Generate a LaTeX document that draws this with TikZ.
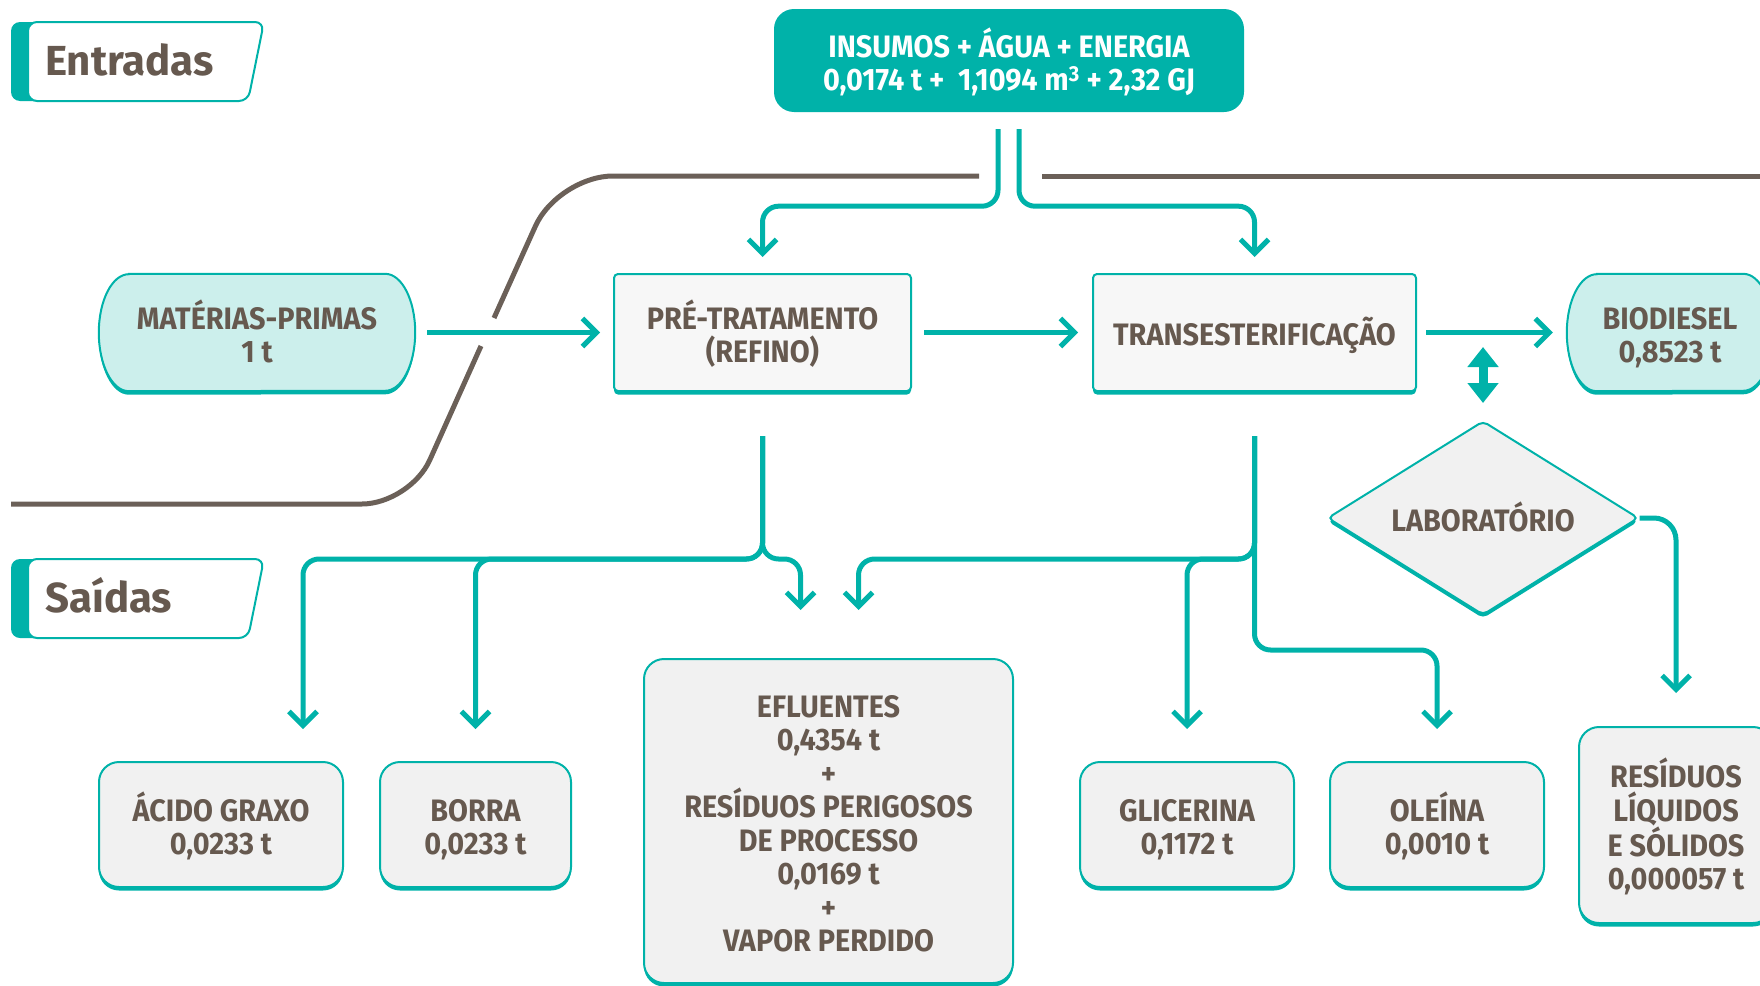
\documentclass[tikz,border=0pt]{standalone}
\usepackage{fontspec}
\setmainfont{Fira Sans}
\newfontfamily\estreita{Fira Sans}[FakeStretch=0.93]
\usepackage{tikz}
\usetikzlibrary{calc,shapes.geometric}
\usetikzlibrary{arrows.meta,backgrounds}
\definecolor{verde}{HTML}{00B2A9}
\definecolor{verdeclaro}{HTML}{CCEFEC}
\definecolor{cinza}{HTML}{F1F1F1}
\definecolor{cinzaclaro}{HTML}{F7F7F7}
\definecolor{texto}{HTML}{66594F}
\definecolor{linha}{HTML}{6B6058}
\newcommand{\grossura}{5pt}
\newcommand{\borda}{2pt}
\newcommand{\raio}{58.5pt}
\newcommand{\fonte}{\estreita\fontsize{31}{33.5}\selectfont\bfseries}
\newcommand{\topo}{\rule{0pt}{35pt}}
\newcommand{\fundo}{\rule[-7.6pt]{0pt}{7.6pt}}
\tikzset{
  texto/.style={inner sep=0pt, align=center, font=\fonte},
  sombra/.style={preaction={fill=verde, transform canvas={yshift=-3.5pt}}},
  caixa/.style={texto, draw=verde, line width=\borda, fill=cinza, rounded corners=20pt, text=texto, sombra},
  etapa/.style={caixa, fill=cinzaclaro, rounded corners=4pt},
  pilula/.style={texto, text=texto},
  fluxo/.style={verde, line width=\grossura, rounded corners=16pt, -{Straight Barb[length=14pt,width=28pt]}},
  divisor/.style={linha, line width=\grossura},
  etiqueta/.style={text=texto, font=\fontsize{42}{42}\selectfont\bfseries, inner sep=0pt, anchor=base west},
}

\begin{document}
\begin{tikzpicture}[x=1pt, y=-1pt]
\useasboundingbox (0,0) rectangle (1760,985);
%tags
\fill[verde, rounded corners=9pt] (11,22) rectangle (50,101);
\filldraw[fill=white, draw=verde, line width=\borda, rounded corners=9pt] (28,22) -- (264,22) -- (248,101) -- (28,101) -- cycle;
\node[etiqueta] (e) at (45,75) {Entradas};
\fill[verde, rounded corners=9pt] (11,559) rectangle (50,638);
\filldraw[fill=white, draw=verde, line width=\borda, rounded corners=9pt] (28,559) -- (264,559) -- (248,638) -- (28,638) -- cycle;
\node[etiqueta] (s) at (45,612) {Saídas};
%divisor
\draw[divisor] (979,176) [rounded corners=55pt] -- (558,176) -- (494,318);
\draw[divisor] (481,346) [rounded corners=48pt] -- (410,504) -- (11,504);
\draw[divisor] (1042,176) -- (1760,176);
%nodes
\node[texto, fill=verde, rounded corners=20pt, minimum width=470pt, minimum height=103pt, text=white] (0) at (1009,60.5) {\topo INSUMOS + ÁGUA + ENERGIA\\0,0174 t + \ 1,1094 m\textsuperscript{3} + 2,32 GJ\fundo};
\node[pilula, minimum width=316pt, minimum height=117pt] (1) at (257,332.5) {\topo MATÉRIAS-PRIMAS\\1 t\fundo};
\node[etapa, minimum width=297pt, minimum height=117pt] (2) at (762.5,332.5) {\topo PRÉ-TRATAMENTO\\(REFINO)\fundo};
\node[etapa, minimum width=323pt, minimum height=117pt] (3) at (1254.5,332.5) {\topo TRANSESTERIFICAÇÃO\fundo};
\node[pilula, minimum width=206pt, minimum height=117pt] (4) at (1670,332.5) {\topo BIODIESEL\\0,8523 t\fundo};
\node[caixa, diamond, aspect=1.6, rounded corners=5pt, minimum width=311pt, minimum height=194pt] (5) at (1483,518) {\topo LABORATÓRIO\fundo};
\node[caixa, minimum width=244pt, minimum height=125pt] (6) at (221,824.5) {\topo ÁCIDO GRAXO\\0,0233 t\fundo};
\node[caixa, minimum width=191pt, minimum height=125pt] (7) at (475.5,824.5) {\topo BORRA\\0,0233 t\fundo};
\node[caixa, minimum width=369pt, minimum height=324pt] (8) at (828.5,821) {\topo EFLUENTES\\0,4354 t\\+\\RESÍDUOS PERIGOSOS\\DE PROCESSO\\0,0169 t\\+\\VAPOR PERDIDO\fundo};
\node[caixa, minimum width=214pt, minimum height=125pt] (9) at (1187,824.5) {\topo GLICERINA\\0,1172 t\fundo};
\node[caixa, minimum width=214pt, minimum height=125pt] (10) at (1437,824.5) {\topo OLEÍNA\\0,0010 t\fundo};
\node[caixa, minimum width=194pt, minimum height=196pt] (11) at (1676,825) {\topo RESÍDUOS\\LÍQUIDOS\\E SÓLIDOS\\0,000057 t\fundo};
%pilulas
\begin{scope}[on background layer]
\fill[verde, transform canvas={yshift=-3.5pt}] ($(1.north west)+(30,0)$) -- ($(1.north east)+(-30,0)$) arc[start angle=90, end angle=-90, x radius=30pt, y radius=\raio] -- ($(1.south west)+(30,0)$) arc[start angle=270, end angle=90, x radius=30pt, y radius=\raio] -- cycle;
\filldraw[fill=verdeclaro, draw=verde, line width=\borda] ($(1.north west)+(30,0)$) -- ($(1.north east)+(-30,0)$) arc[start angle=90, end angle=-90, x radius=30pt, y radius=\raio] -- ($(1.south west)+(30,0)$) arc[start angle=270, end angle=90, x radius=30pt, y radius=\raio] -- cycle;
\fill[verde, transform canvas={yshift=-3.5pt}] ($(4.north west)+(30,0)$) -- ($(4.north east)+(-30,0)$) arc[start angle=90, end angle=-90, x radius=30pt, y radius=\raio] -- ($(4.south west)+(30,0)$) arc[start angle=270, end angle=90, x radius=30pt, y radius=\raio] -- cycle;
\filldraw[fill=verdeclaro, draw=verde, line width=\borda] ($(4.north west)+(30,0)$) -- ($(4.north east)+(-30,0)$) arc[start angle=90, end angle=-90, x radius=30pt, y radius=\raio] -- ($(4.south west)+(30,0)$) arc[start angle=270, end angle=90, x radius=30pt, y radius=\raio] -- cycle;
\end{scope}
%0
\draw[fluxo] ($(0.south)+(-11,17)$) -- ++(0,77) -| ($(2.north)+(0,-16)$);
\draw[fluxo] ($(0.south)+(10,17)$) -- ++(0,77) -| ($(3.north)+(0,-16)$);
%1234
\draw[fluxo] ($(1.east)+(12,0)$) -- ($(2.west)+(-13,0)$);
\draw[fluxo] ($(2.east)+(12,0)$) -- ($(3.west)+(-14,0)$);
\draw[fluxo] ($(3.east)+(9,0)$) -- ($(4.west)+(-14,0)$);
%2
\draw[fluxo] ($(2.south)+(0,44)$) -- ++(0,123) -| ($(6.north)+(82,-32)$);
\draw[fluxo] ($(2.south)+(0,44)$) -- ++(0,123) -| ($(7.north)+(0,-32)$);
\draw[fluxo] ($(2.south)+(0,44)$) -- ++(0,123) -| ($(8.north)+(-28,-48)$);
%3
\draw[fluxo] ($(3.south)+(0,44)$) -- ++(0,123) -| ($(8.north)+(30,-48)$);
\draw[fluxo] ($(3.south)+(0,44)$) -- ++(0,123) -| ($(9.north)+(0,-32)$);
\draw[fluxo] ($(3.south)+(0,44)$) -- ++(0,214) -| ($(10.north)+(0,-32)$);
%5
\draw[fluxo, rounded corners=22pt] (5.east) -| ($(11.north)+(0,-33)$);
\draw[verde, line width=9pt, {Triangle[length=20pt,width=30pt]}-{Triangle[length=20pt,width=30pt]}] ($(5.north)+(0,-17)$) -- ($(5.north)+(0,-73)$);
\end{tikzpicture}
\end{document}
